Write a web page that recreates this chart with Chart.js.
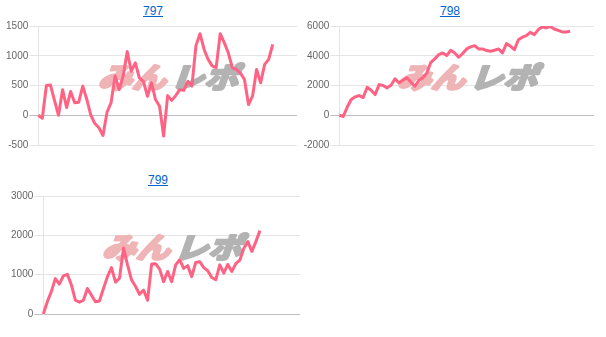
<!DOCTYPE html>
<html><head><meta charset="utf-8">
<script src="https://cdn.jsdelivr.net/npm/chart.js@4.4.1/dist/chart.umd.min.js"></script>
<style>
html,body{margin:0;padding:0;background:#fff;width:606px;height:337px;overflow:hidden;position:relative}
.t{position:absolute;font:12px "Liberation Sans",Arial,sans-serif;line-height:14px;color:#0066cc;text-decoration:underline;transform:translateX(-50%);white-space:nowrap}
canvas{position:absolute}
</style></head><body>
<a class="t" href="#" style="left:153px;top:4px">797</a>
<a class="t" href="#" style="left:450px;top:4px">798</a>
<a class="t" href="#" style="left:158px;top:173px">799</a>
<canvas id="c1" width="297" height="160" style="left:0;top:0"></canvas>
<canvas id="c2" width="294" height="160" style="left:300px;top:0"></canvas>
<canvas id="c3" width="300" height="160" style="left:0;top:170px"></canvas>
<script>
// category count on the shared x axis (labels hidden)
const xCount = 65;
const categories = Array.from({length: xCount}, (_, i) => String(i + 1));

const titles = ['797', '798', '799'];

const values797 = [0, -50, 500, 510, 250, 0, 430, 130, 400, 210, 220, 490, 265, 0, -140, -210, -340, 50, 210, 660,
  430, 660, 1070, 740, 880, 630, 570, 320, 545, 265, 150, -350, 330, 250, 330, 430, 420, 570, 490, 1170,
  1370, 1110, 940, 830, 800, 1370, 1220, 1050, 800, 770, 710, 600, 180, 320, 770, 545, 855, 940, 1190];

const values798 = [0, -80, 550, 1060, 1240, 1330, 1190, 1880, 1680, 1390, 2060, 2000, 1840, 2020, 2450, 2180, 2350, 2520, 2220, 1950,
  2350, 2520, 2850, 3560, 3790, 4080, 4190, 4010, 4370, 4190, 3900, 4150, 4460, 4600, 4680, 4460, 4460, 4350, 4300, 4370,
  4460, 4190, 4820, 4640, 4410, 5080, 5250, 5350, 5570, 5420, 5760, 5940, 5870, 5970, 5800, 5700, 5600, 5600, 5640];

const values799 = [0, 310, 570, 900, 760, 970, 1010, 740, 350, 300, 350, 650, 480, 310, 330, 650, 950, 1180, 810, 910,
  1680, 1250, 870, 700, 500, 610, 350, 1270, 1280, 1140, 820, 1080, 820, 1250, 1380, 1160, 1230, 950, 1310, 1330,
  1180, 1100, 930, 870, 1250, 1040, 1260, 1080, 1280, 1370, 1670, 1840, 1590, 1840, 2120];

const yTicks797 = [-500, 0, 500, 1000, 1500];
const yTicks798 = [-2000, 0, 2000, 4000, 6000];
const yTicks799 = [0, 1000, 2000, 3000];

const watermark = {
  id: 'watermark',
  beforeDatasetsDraw(chart) {
    const a = chart.chartArea, ctx = chart.ctx;
    const cx = (a.left + a.right) / 2, cy = (a.top + a.bottom) / 2 - 8;
    ctx.save();
    ctx.font = 'bold 30px "Noto Sans CJK JP"';
    ctx.textBaseline = 'middle';
    ctx.lineJoin = 'round';
    const p1 = 'みん', p2 = 'レポ', gap = 4;
    const w1 = ctx.measureText(p1).width, w2 = ctx.measureText(p2).width;
    const target = 140;
    const sx = target / (w1 + w2 + gap);
    ctx.translate(cx - target / 2 + 4, cy);
    ctx.scale(sx, 0.95);
    ctx.transform(1, 0, -0.3, 1, 0, 0);
    ctx.lineWidth = 3;
    ctx.fillStyle = ctx.strokeStyle = '#efb4b6';
    ctx.strokeText(p1, 0, 0);
    ctx.fillText(p1, 0, 0);
    ctx.fillStyle = ctx.strokeStyle = '#b3b3b3';
    ctx.strokeText(p2, w1 + gap, 0);
    ctx.fillText(p2, w1 + gap, 0);
    ctx.restore();
  }
};

function makeChart(id, values, ticks, axisWidth, pad) {
  new Chart(document.getElementById(id), {
    type: 'line',
    data: {
      labels: categories,
      datasets: [{
        data: values,
        borderColor: 'rgb(255,99,132)',
        backgroundColor: 'rgb(255,99,132)',
        borderWidth: 3,
        borderJoinStyle: 'round',
        pointRadius: 0,
        fill: false,
        tension: 0
      }]
    },
    options: {
      responsive: false,
      animation: false,
      devicePixelRatio: 1,
      layout: { padding: pad },
      plugins: { legend: { display: false }, tooltip: { enabled: false }, title: { display: false } },
      scales: {
        x: { display: false },
        y: {
          min: ticks[0],
          max: ticks[ticks.length - 1],
          afterFit: s => { s.width = axisWidth; },
          border: { display: true, color: 'rgba(0,0,0,0.1)' },
          grid: {
            color: c => (c.tick && c.tick.value === 0) ? 'rgba(0,0,0,0.25)' : 'rgba(0,0,0,0.1)',
            tickLength: 9,
            drawTicks: true
          },
          ticks: {
            stepSize: ticks[1] - ticks[0],
            padding: 1,
            color: '#666',
            font: { family: '"Liberation Sans", Arial, sans-serif', size: 10 },
            callback: v => String(v)
          }
        }
      }
    },
    plugins: [watermark]
  });
}

makeChart('c1', values797, yTicks797, 38.3, { top: 26, bottom: 15, left: 0, right: 0 });
makeChart('c2', values798, yTicks798, 39.3, { top: 26, bottom: 15, left: 0, right: 0 });
makeChart('c3', values799, yTicks799, 43.3, { top: 26, bottom: 16, left: 0, right: 0 });
</script>
</body></html>
